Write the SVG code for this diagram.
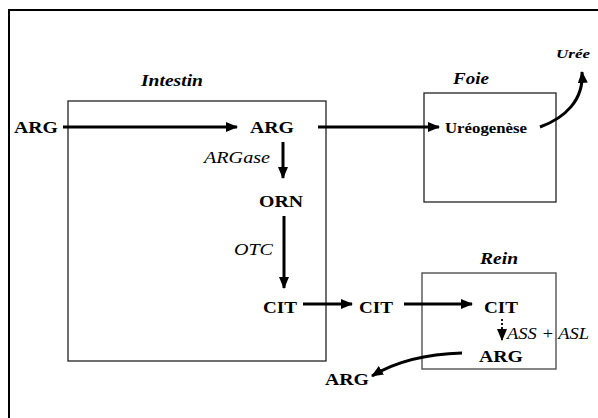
<svg xmlns="http://www.w3.org/2000/svg" width="598" height="418" viewBox="0 0 598 418">
<defs>
<marker id="ah" markerWidth="12" markerHeight="10" refX="11" refY="5" orient="auto" markerUnits="userSpaceOnUse">
<path d="M0,0 L12,5 L0,10 Z" fill="#000"/>
</marker>
</defs>
<style>
text{font-family:'Liberation Serif','DejaVu Serif','Times New Roman',serif;fill:#000}
.b{font-weight:bold;font-size:17px}
.bi{font-weight:bold;font-style:italic;font-size:17px}
.i{font-style:italic;font-size:17px}
.box{fill:none;stroke:#222;stroke-width:1.3}
.box2{fill:none;stroke:#444;stroke-width:1.3}
.c{fill:none;stroke:#000;stroke-width:3}
</style>
<rect width="598" height="418" fill="#fff"/>
<rect x="9" y="10" width="600" height="420" fill="none" stroke="#000" stroke-width="2"/>
<g id="intestin">
<rect class="box" x="68" y="101" width="258" height="260"/>
<text class="bi" x="141" y="86" textLength="62" lengthAdjust="spacingAndGlyphs">Intestin</text>
</g>
<g id="foie">
<rect class="box" x="424" y="93" width="132" height="109"/>
<text class="bi" x="453" y="84" textLength="36" lengthAdjust="spacingAndGlyphs">Foie</text>
</g>
<g id="rein">
<rect class="box2" x="422" y="273" width="134" height="96"/>
<text class="bi" x="480" y="264" textLength="38" lengthAdjust="spacingAndGlyphs">Rein</text>
</g>
<g id="arg-in"><text class="b" x="14" y="133" textLength="44" lengthAdjust="spacingAndGlyphs">ARG</text></g>
<g id="arg-int"><text class="b" x="250" y="133" textLength="44" lengthAdjust="spacingAndGlyphs">ARG</text></g>
<g id="ureogenese"><text x="445" y="133" font-weight="bold" font-size="14.5" textLength="82" lengthAdjust="spacingAndGlyphs">Uréogenèse</text></g>
<g id="uree"><text x="556" y="58" font-weight="bold" font-style="italic" font-size="12" textLength="34" lengthAdjust="spacingAndGlyphs">Urée</text></g>
<g id="orn"><text class="b" x="259" y="207" textLength="44" lengthAdjust="spacingAndGlyphs">ORN</text></g>
<g id="cit1"><text class="b" x="263" y="313" textLength="34" lengthAdjust="spacingAndGlyphs">CIT</text></g>
<g id="cit2"><text class="b" x="359" y="313" textLength="34" lengthAdjust="spacingAndGlyphs">CIT</text></g>
<g id="cit3"><text class="b" x="484" y="313" textLength="34" lengthAdjust="spacingAndGlyphs">CIT</text></g>
<g id="arg-rein"><text class="b" x="479" y="362" textLength="44" lengthAdjust="spacingAndGlyphs">ARG</text></g>
<g id="arg-out"><text class="b" x="325" y="385" textLength="44" lengthAdjust="spacingAndGlyphs">ARG</text></g>
<g id="connectors">
<line class="c" x1="63" y1="127" x2="237" y2="127" marker-end="url(#ah)"/>
<line class="c" x1="318" y1="127" x2="439" y2="127" marker-end="url(#ah)"/>
<path class="c" d="M540,127 C565,118 584,100 582,72" marker-end="url(#ah)"/>
<line class="c" x1="283" y1="142" x2="283" y2="178" marker-end="url(#ah)"/>
<text class="i" x="204" y="163" textLength="66" lengthAdjust="spacingAndGlyphs">ARGase</text>
<line class="c" x1="284" y1="216" x2="284" y2="288" marker-end="url(#ah)"/>
<text class="i" x="234" y="255" textLength="39" lengthAdjust="spacingAndGlyphs">OTC</text>
<line class="c" x1="303" y1="304" x2="352" y2="304" marker-end="url(#ah)"/>
<line class="c" x1="404" y1="304" x2="472" y2="304" marker-end="url(#ah)"/>
<line x1="502" y1="319" x2="502" y2="340" stroke="#000" stroke-width="1.8" stroke-dasharray="2,2" marker-end="url(#ah)"/>
<text class="i" x="507" y="339" textLength="82" lengthAdjust="spacingAndGlyphs">ASS + ASL</text>
<path class="c" d="M462,353 C425,354 395,362 372,376" marker-end="url(#ah)"/>
</g>
</svg>
